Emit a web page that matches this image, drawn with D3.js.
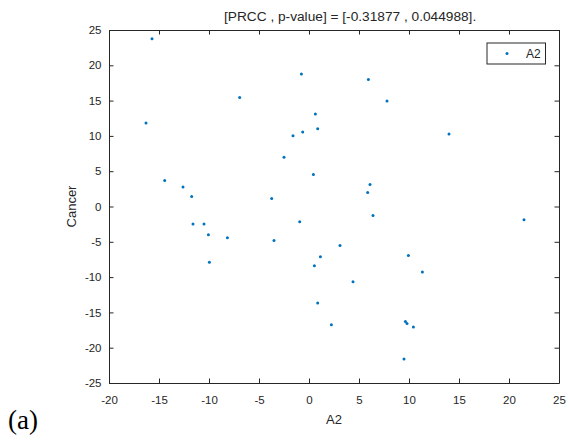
<html>
<head>
<meta charset="utf-8">
<script src="https://d3js.org/d3.v7.min.js"></script>
<style>
    body { margin: 0; background: #fff; }
    svg text { font-family: "Liberation Sans", Arial, sans-serif; fill: #262626; }
    .axis path, .axis line { stroke: #262626; }
</style>
</head>
<body>
<svg id="the-chart" width="569" height="442"></svg>
<script>
    // A2 values (x) and Cancer values (y)
    var a2 = [-15.7, -16.3, -6.93, -0.76, 0.64, -0.63, 0.87, -1.6, -2.5, 0.44,
              -14.43, -12.6, -11.73, -3.73, 5.94, 7.8, 14.0, 6.1, 5.87,
              -11.6, -10.5, -10.06, -8.16, -9.96, -3.5, -0.93, 0.54, 1.14, 0.87,
              2.24, 3.1, 6.4, 21.5, 9.94, 11.34, 4.4, 9.64, 9.8, 10.44, 9.5];
    var cancer = [23.77, 11.83, 15.45, 18.77, 13.1, 10.55, 11.02, 10.03, 6.96, 4.55,
                  3.7, 2.76, 1.43, 1.15, 18.0, 14.94, 10.27, 3.13, 2.0,
                  -2.48, -2.48, -4.0, -4.42, -7.9, -4.8, -2.15, -8.39, -7.1, -13.67,
                  -16.74, -5.52, -1.26, -1.87, -6.93, -9.28, -10.65, -16.3, -16.56, -17.07, -21.6];
    var xTicks = [-20, -15, -10, -5, 0, 5, 10, 15, 20, 25];
    var yTicks = [-25, -20, -15, -10, -5, 0, 5, 10, 15, 20, 25];
    var title = '[PRCC , p-value] = [-0.31877 , 0.044988].';

    var svg = d3.select('#the-chart');
    var margin = { top: 30, left: 109, right: 10, bottom: 59 };
    var width = +svg.attr('width') - margin.left - margin.right;
    var height = +svg.attr('height') - margin.top - margin.bottom;
    var g = svg.append('g')
        .attr('transform', 'translate(' + margin.left + ',' + margin.top + ')');

    var x = d3.scaleLinear().domain([-20, 25]).range([0, width]);
    var y = d3.scaleLinear().domain([-25, 25]).range([height, 0]);

    // plain hyphen for negatives, like the original
    var fmt = function(d) { return String(d); };

    function style(sel) {
        sel.selectAll('text').style('font-size', '11.5px').style('fill', '#262626');
        sel.select('.domain').attr('stroke-width', 1);
    }

    // bottom + left with labels, top + right with ticks only (inside)
    g.append('g').attr('class', 'axis').attr('transform', 'translate(0,' + height + ')')
        .call(d3.axisBottom(x).tickValues(xTicks).tickFormat(fmt).tickSizeInner(-4.5).tickSizeOuter(0).tickPadding(13))
        .call(style);
    g.append('g').attr('class', 'axis')
        .call(d3.axisLeft(y).tickValues(yTicks).tickFormat(fmt).tickSizeInner(-4.5).tickSizeOuter(0).tickPadding(7.5))
        .call(style);
    g.append('g').attr('class', 'axis')
        .call(d3.axisTop(x).tickValues(xTicks).tickSizeInner(-4.5).tickSizeOuter(0).tickFormat(''))
        .call(style);
    g.append('g').attr('class', 'axis').attr('transform', 'translate(' + width + ',0)')
        .call(d3.axisRight(y).tickValues(yTicks).tickSizeInner(-4.5).tickSizeOuter(0).tickFormat(''))
        .call(style);

    var data = a2.map(function(d, i) { return { x: d, y: cancer[i] }; });
    g.selectAll('circle.pt')
        .data(data)
        .enter().append('circle')
        .attr('class', 'pt')
        .attr('cx', function(d) { return x(d.x); })
        .attr('cy', function(d) { return y(d.y); })
        .attr('r', 1.5)
        .attr('fill', '#0072BD');

    // title
    svg.append('text')
        .attr('x', 224).attr('y', 21)
        .style('font-size', '13.7px')
        .text(title);

    // axis labels
    g.append('text')
        .attr('x', width / 2).attr('y', height + 41)
        .attr('text-anchor', 'middle')
        .style('font-size', '13px')
        .text('A2');
    g.append('text')
        .attr('transform', 'translate(-33,' + (height / 2) + ') rotate(-90)')
        .attr('text-anchor', 'middle')
        .style('font-size', '13px')
        .text('Cancer');

    // legend
    var leg = g.append('g').attr('transform', 'translate(' + (width - 72) + ',13)');
    leg.append('rect')
        .attr('width', 58.5).attr('height', 21)
        .attr('fill', '#fff').attr('stroke', '#262626').attr('stroke-width', 1);
    leg.append('circle')
        .attr('cx', 20).attr('cy', 10.5).attr('r', 1.5)
        .attr('fill', '#0072BD');
    leg.append('text')
        .attr('x', 39).attr('y', 15)
        .style('font-size', '12px')
        .text('A2');

    // panel label
    svg.append('text')
        .attr('x', 8).attr('y', 429)
        .style('font-family', '"Liberation Serif", "DejaVu Serif", serif')
        .style('font-size', '27px')
        .style('fill', '#000')
        .text('(a)');
</script>
</body>
</html>
